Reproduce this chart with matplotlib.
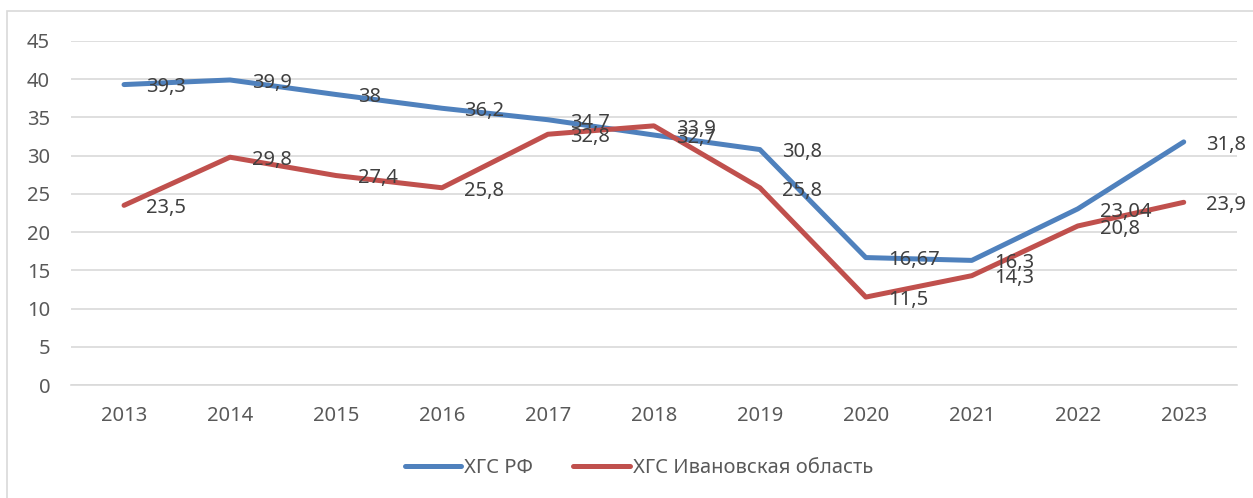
import matplotlib.pyplot as plt
from matplotlib.patches import Rectangle

plt.rcParams['font.family'] = ['Noto Sans', 'DejaVu Sans']

years = ['2013', '2014', '2015', '2016', '2017', '2018', '2019', '2020', '2021', '2022', '2023']
rf = [39.3, 39.9, 38, 36.2, 34.7, 32.7, 30.8, 16.67, 16.3, 23.04, 31.8]
ivanovo = [23.5, 29.8, 27.4, 25.8, 32.8, 33.9, 25.8, 11.5, 14.3, 20.8, 23.9]
rf_name = 'ХГС РФ'
ivanovo_name = 'ХГС Ивановская область'

fig = plt.figure(figsize=(12.53, 4.98), dpi=100)
ax = fig.add_axes([0.0567, 0.2269, 0.9303, 0.6908])

# chart frame: only left and top edges fall inside the picture
fig.patches.append(Rectangle((0.0056, -0.02), 1.1, 0.998, transform=fig.transFigure,
                             fill=False, edgecolor='#d9d9d9', linewidth=1.2))

x = list(range(len(years)))
ax.plot(x, rf, color='#4f81bd', linewidth=3.6, solid_capstyle='round', label=rf_name)
ax.plot(x, ivanovo, color='#c0504d', linewidth=3.6, solid_capstyle='round', label=ivanovo_name)

def fmt(v):
    return ('%g' % v).replace('.', ',')

for vals in [rf, ivanovo]:
    for xi, v in zip(x, vals):
        ax.annotate(fmt(v), (xi, v), xytext=(16, -2), textcoords='offset points',
                    ha='left', va='center', fontsize=14.5, color='#404040')

ax.set_xlim(-0.5, len(years) - 0.5)
ax.set_ylim(0, 45)
ax.set_yticks(range(0, 46, 5))
ax.set_xticks(x)
ax.set_xticklabels(years)
ax.tick_params(axis='both', length=0, labelsize=14.5, colors='#595959')
ax.tick_params(axis='y', pad=15)
ax.tick_params(axis='x', pad=15)
ax.grid(axis='y', color='#d9d9d9', linewidth=1.2)
ax.set_axisbelow(True)
for s in ['top', 'right', 'left']:
    ax.spines[s].set_visible(False)
ax.spines['bottom'].set_color('#d9d9d9')
ax.spines['bottom'].set_linewidth(1.2)

fig.legend(loc='center', bbox_to_anchor=(0.51, 0.06), ncol=2, frameon=False,
           fontsize=14.5, labelcolor='#595959', handlelength=2.8, handletextpad=0.15,
           columnspacing=2.0)

fig.savefig('out.png', dpi=100)
